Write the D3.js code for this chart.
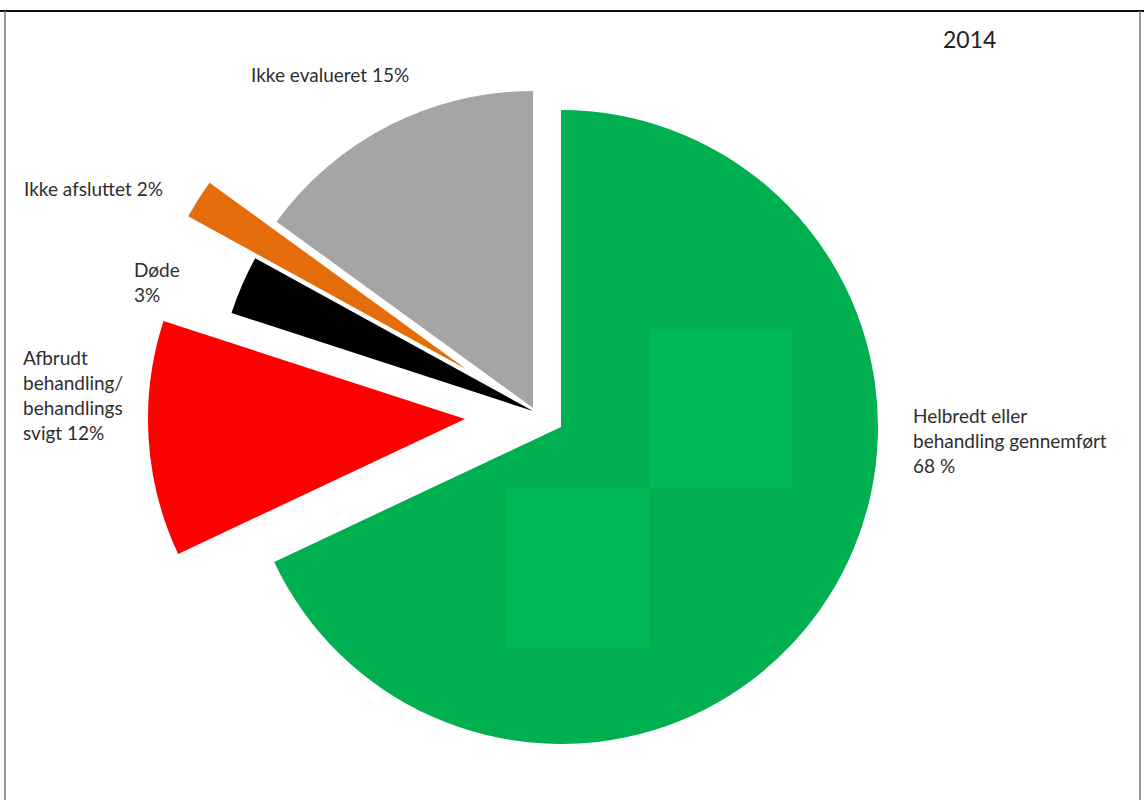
<!doctype html>
<html lang="da">
  <head>
    <meta charset="UTF-8" />
    <title>Behandlingsresultat 2014</title>
    <script src="https://unpkg.com/d3@7.9.0/dist/d3.min.js"></script>
    <style>
      body {
        margin: 0;
        background: #fff;
      }
      svg {
        display: block;
        font-family: Lato, 'Open Sans', sans-serif;
      }
      .lbl {
        font-size: 19px;
        fill: #2e2e2e;
      }
      .year {
        font-size: 23px;
        fill: #222;
      }
    </style>
  </head>
  <body>
    <div id="chart"></div>

    <script>
      // slice data, clockwise from 12 o'clock
      const categories = [
        'Helbredt eller behandling gennemført',
        'Afbrudt behandling/behandlings svigt',
        'Døde',
        'Ikke afsluttet',
        'Ikke evalueret',
      ];
      const values = [68, 12, 3, 2, 15];
      const colors = ['#00af50', '#ff0000', '#000000', '#e46c0a', '#a5a5a5'];

      // label lines as printed next to each slice
      const labelLines = [
        ['Helbredt eller', 'behandling gennemført', '68 %'],
        ['Afbrudt', 'behandling/', 'behandlings', 'svigt 12%'],
        ['Døde', '3%'],
        ['Ikke afsluttet 2%'],
        ['Ikke evalueret 15%'],
      ];

      const width = 1144;
      const height = 800;
      const radius = 317;

      // each exploded slice has its own apex
      const centers = [
        [561, 427],
        [465, 419],
        [533, 411],
        [466, 369],
        [533, 408],
      ];
      const labelPos = [
        [913, 423],
        [23, 365],
        [134, 277],
        [24, 196],
        [251, 82],
      ];

      const svg = d3
        .select('#chart')
        .append('svg')
        .attr('width', width)
        .attr('height', height);

      // frame
      svg
        .append('line')
        .attr('x1', 0)
        .attr('x2', width)
        .attr('y1', 11)
        .attr('y2', 11)
        .attr('stroke', '#111')
        .attr('stroke-width', 2);
      svg
        .append('line')
        .attr('x1', 5)
        .attr('x2', 5)
        .attr('y1', 11)
        .attr('y2', height)
        .attr('stroke', '#777')
        .attr('stroke-width', 1.5);
      svg
        .append('line')
        .attr('x1', 1140)
        .attr('x2', 1140)
        .attr('y1', 11)
        .attr('y2', height)
        .attr('stroke', '#777')
        .attr('stroke-width', 1.5);

      const pie = d3
        .pie()
        .sort(null)
        .value((d) => d);

      const arc = d3.arc().innerRadius(0).outerRadius(radius);

      const arcs = pie(values);

      svg
        .selectAll('.slice')
        .data(arcs)
        .enter()
        .append('path')
        .attr('class', 'slice')
        .attr('transform', (d, i) => `translate(${centers[i][0]},${centers[i][1]})`)
        .attr('d', arc)
        .attr('fill', (d, i) => colors[i]);

      // lighter blocks inside the green slice (compression blocks in the source)
      const patches = [
        [649, 329, 143, 159],
        [506, 488, 143, 160],
      ];
      svg
        .selectAll('.patch')
        .data(patches)
        .enter()
        .append('rect')
        .attr('x', (d) => d[0])
        .attr('y', (d) => d[1])
        .attr('width', (d) => d[2])
        .attr('height', (d) => d[3])
        .attr('fill', '#00b854');

      // labels
      labelLines.forEach((lines, i) => {
        const t = svg
          .append('text')
          .attr('class', 'lbl')
          .attr('x', labelPos[i][0])
          .attr('y', labelPos[i][1]);
        lines.forEach((line, k) => {
          t.append('tspan')
            .attr('x', labelPos[i][0])
            .attr('dy', k === 0 ? 0 : 25)
            .text(line);
        });
      });

      svg
        .append('text')
        .attr('class', 'year')
        .attr('x', 943)
        .attr('y', 48)
        .text('2014');
    </script>
  </body>
</html>
